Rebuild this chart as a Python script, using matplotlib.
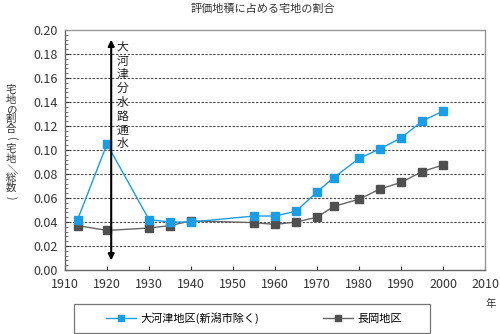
import numpy as np
import matplotlib.pyplot as plt
from matplotlib.ticker import MultipleLocator
from matplotlib.patches import Rectangle

plt.rcParams['font.family'] = ['Noto Sans CJK JP', 'DejaVu Sans']

# data
years = [1913, 1920, 1930, 1935, 1940, 1955, 1960, 1965, 1970, 1974,
         1980, 1985, 1990, 1995, 2000]
okozu = [0.042, 0.105, 0.042, 0.040, 0.040, 0.045, 0.045, 0.049, 0.065, 0.077,
         0.093, 0.101, 0.110, 0.124, 0.1325]
nagaoka = [0.037, 0.033, 0.035, 0.037, 0.041, 0.0395, 0.038, 0.040, 0.044, 0.053,
           0.059, 0.0675, 0.073, 0.082, 0.0875]
labels = ['大河津地区(新潟市除く)', '長岡地区']
title = '評価地積に占める宅地の割合'
ylabel = '宅地の割合(宅地／総数)'
event_year = 1921
event_text = '大河津分水路通水'

blue = '#1a9de6'
gray = '#555555'

fig = plt.figure(figsize=(5, 3.34), dpi=100)
ax = fig.add_axes([0.13, 0.1916, 0.84, 0.7184])

ax.plot(years, okozu, color=blue, lw=1.0, marker='s', ms=5.5,
        mfc=blue, mec=blue, label=labels[0], zorder=4)
ax.plot(years, nagaoka, color='#666666', lw=1.0, marker='s', ms=5.5,
        mfc='#505050', mec='#505050', label=labels[1], zorder=3)

ax.set_xlim(1910, 2010)
ax.set_ylim(0, 0.20)
ax.xaxis.set_major_locator(MultipleLocator(10))
ax.yaxis.set_major_locator(MultipleLocator(0.02))
ax.yaxis.set_minor_locator(MultipleLocator(0.004))
ax.yaxis.set_major_formatter(plt.FuncFormatter(lambda v, p: f'{v:.2f}'))

ax.tick_params(axis='both', direction='in', labelsize=9, colors='#333333',
               length=3, width=0.8)
ax.tick_params(axis='y', which='minor', direction='in', length=2, width=0.6,
               color='#555555')
ax.tick_params(axis='x', pad=6)
ax.tick_params(axis='y', pad=5)

for yv in np.arange(0.02, 0.19, 0.02):
    ax.axhline(yv, color='#444444', lw=0.8, ls=(0, (2, 1.5)), zorder=1)

for side in ['top', 'right']:
    ax.spines[side].set_color('#999999')
    ax.spines[side].set_linewidth(1.0)
for side in ['left', 'bottom']:
    ax.spines[side].set_color('#666666')
    ax.spines[side].set_linewidth(1.0)

# arrow marking the opening of the Okozu diversion channel
ax.annotate('', xy=(event_year, 0.008), xytext=(event_year, 0.192),
            arrowprops=dict(arrowstyle='<|-|>', color='black', lw=1.5,
                            mutation_scale=9, shrinkA=0, shrinkB=0), zorder=5)
ax.text(event_year + 1.2, 0.191, '\n'.join(event_text), ha='left', va='top',
        fontsize=8.5, linespacing=1.08, color='#222222', zorder=6)

fig.text(0.526, 0.975, title, ha='center', va='center', fontsize=8,
         color='#333333')

# vertical y label, one character at a time (brackets turned sideways)
y0, step = 1 - 90 / 334, 9.8 / 334
for i, ch in enumerate(ylabel):
    rot = -90 if ch in '()／' else 0
    fig.text(0.022, y0 - i * step, ch, ha='center', va='center',
             fontsize=7.5, rotation=rot, color='#333333')

fig.text(0.982, 0.09, '年', ha='center', va='center', fontsize=7.5,
         color='#333333')

fig.patches.append(Rectangle((74 / 500, 1 - 333 / 334), 356 / 500, 29 / 334,
                             transform=fig.transFigure, fill=False,
                             edgecolor='#777777', lw=0.9))
leg = fig.legend(loc='center', bbox_to_anchor=(0.508, 0.047), ncol=2,
                 fontsize=8, frameon=False, columnspacing=5.8,
                 handlelength=2.7, handletextpad=0.35, markerscale=0.75)

fig.savefig('out.png', dpi=100)
